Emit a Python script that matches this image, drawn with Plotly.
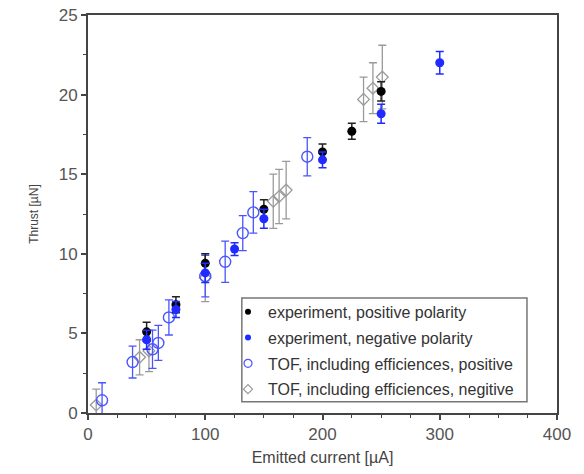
import plotly.graph_objects as go

# experiment, positive polarity
pos_x = [50, 75, 100, 150, 200, 225, 250]
pos_y = [5.1, 6.8, 9.4, 12.8, 16.4, 17.7, 20.2]
pos_err = [0.6, 0.5, 0.6, 0.6, 0.5, 0.5, 0.6]

# experiment, negative polarity
neg_x = [50, 75, 100, 125, 150, 200, 250, 300]
neg_y = [4.6, 6.5, 8.8, 10.3, 12.2, 15.9, 18.8, 22.0]
neg_err = [0.6, 0.5, 0.6, 0.4, 0.6, 0.5, 0.6, 0.7]

# TOF, including efficiences, positive
tofp_x = [12, 38, 55, 60, 69, 100, 117, 132, 141, 187]
tofp_y = [0.8, 3.2, 4.0, 4.4, 6.0, 8.6, 9.5, 11.3, 12.6, 16.1]
tofp_err = [1.1, 1.0, 1.2, 1.1, 1.1, 1.3, 1.3, 1.1, 1.3, 1.2]

# TOF, including efficiences, negative
tofn_x = [7, 44, 52, 100, 158, 163, 169, 235, 243, 251]
tofn_y = [0.5, 3.5, 3.9, 8.5, 13.3, 13.6, 14.0, 19.7, 20.4, 21.1]
tofn_err = [1.0, 1.1, 1.3, 1.5, 1.7, 1.7, 1.8, 1.4, 1.6, 2.0]

x_ticks = [0, 100, 200, 300, 400]
y_ticks = [0, 5, 10, 15, 20, 25]

GRAY = "#9a9a9a"
BLUE = "#1f2bff"
LBLUE = "#4a55ff"
FONT = "Liberation Sans, Arial"

fig = go.Figure()

fig.add_trace(go.Scatter(
    x=tofn_x, y=tofn_y, mode="markers", name="TOF, including efficiences, negitive",
    marker=dict(symbol="diamond-open", size=9, color=GRAY, line=dict(width=1.3, color=GRAY)),
    error_y=dict(type="data", array=tofn_err, color=GRAY, thickness=1.3, width=4),
    cliponaxis=False, showlegend=False))
fig.add_trace(go.Scatter(
    x=tofp_x, y=tofp_y, mode="markers", name="TOF, including efficiences, positive",
    marker=dict(symbol="circle-open", size=11, color=LBLUE, line=dict(width=1.4, color=LBLUE)),
    error_y=dict(type="data", array=tofp_err, color=LBLUE, thickness=1.3, width=4),
    cliponaxis=False, showlegend=False))
fig.add_trace(go.Scatter(
    x=pos_x, y=pos_y, mode="markers", name="experiment, positive polarity",
    marker=dict(symbol="circle", size=9, color="#000000"),
    error_y=dict(type="data", array=pos_err, color="#222222", thickness=1.5, width=4),
    cliponaxis=False, showlegend=False))
fig.add_trace(go.Scatter(
    x=neg_x, y=neg_y, mode="markers", name="experiment, negative polarity",
    marker=dict(symbol="circle", size=9, color=BLUE),
    error_y=dict(type="data", array=neg_err, color=BLUE, thickness=1.5, width=4),
    cliponaxis=False, showlegend=False))

# legend entries (in reference order)
legend_items = [
    ("experiment, positive polarity", dict(symbol="circle", size=6, color="#000000")),
    ("experiment, negative polarity", dict(symbol="circle", size=6, color=BLUE)),
    ("TOF, including efficiences, positive", dict(symbol="circle-open", size=8, color=LBLUE, line=dict(width=1.2, color=LBLUE))),
    ("TOF, including efficiences, negitive", dict(symbol="diamond-open", size=7, color=GRAY, line=dict(width=1.2, color=GRAY))),
]
for i, (name, mk) in enumerate(legend_items):
    fig.add_trace(go.Scatter(x=[None], y=[None], mode="markers", name=name, marker=mk,
                             showlegend=True, legendgroup=f"g{i}"))

axis_common = dict(
    showgrid=False, zeroline=False, showline=True, linecolor="#444444", linewidth=2,
    mirror=True, ticks="outside", ticklen=5, tickwidth=1.5, tickcolor="#444444",
    tickfont=dict(family=FONT, size=17, color="#555555"), automargin=False,
    ticklabeloverflow="allow",
)

fig.update_xaxes(range=[0, 400], tickvals=x_ticks, ticktext=[str(v) for v in x_ticks],
                 minor=dict(dtick=25, ticks="outside", ticklen=3, tickcolor="#444444", tickwidth=1.2),
                 title=dict(text="Emitted current [µA]", font=dict(family=FONT, size=16, color="#444444"), standoff=8),
                 **axis_common)
fig.update_yaxes(range=[0, 25], tickvals=y_ticks, ticktext=[str(v) for v in y_ticks],
                 minor=dict(dtick=2.5, ticks="outside", ticklen=3, tickcolor="#444444", tickwidth=1.2),
                 title=dict(text="Thrust [µN]", font=dict(family=FONT, size=12, color="#444444"), standoff=17),
                 **axis_common)

# legend frame
fig.add_shape(type="rect", xref="paper", yref="paper",
              x0=0.328, x1=0.936, y0=0.028, y1=0.289,
              line=dict(color="#777777", width=1.5), fillcolor="white", layer="below")

fig.update_layout(
    width=584, height=474,
    margin=dict(l=88, r=27, t=15, b=61),
    paper_bgcolor="white", plot_bgcolor="white",
    legend=dict(x=0.2985, y=0.0155, xanchor="left", yanchor="bottom",
                bgcolor="rgba(0,0,0,0)", borderwidth=0,
                font=dict(family=FONT, size=16, color="#333333"),
                itemwidth=30, tracegroupgap=2),
)

fig.write_html("out.html", config={"displayModeBar": False},
               post_script="document.body.style.margin='0';document.body.style.overflow='hidden';")
